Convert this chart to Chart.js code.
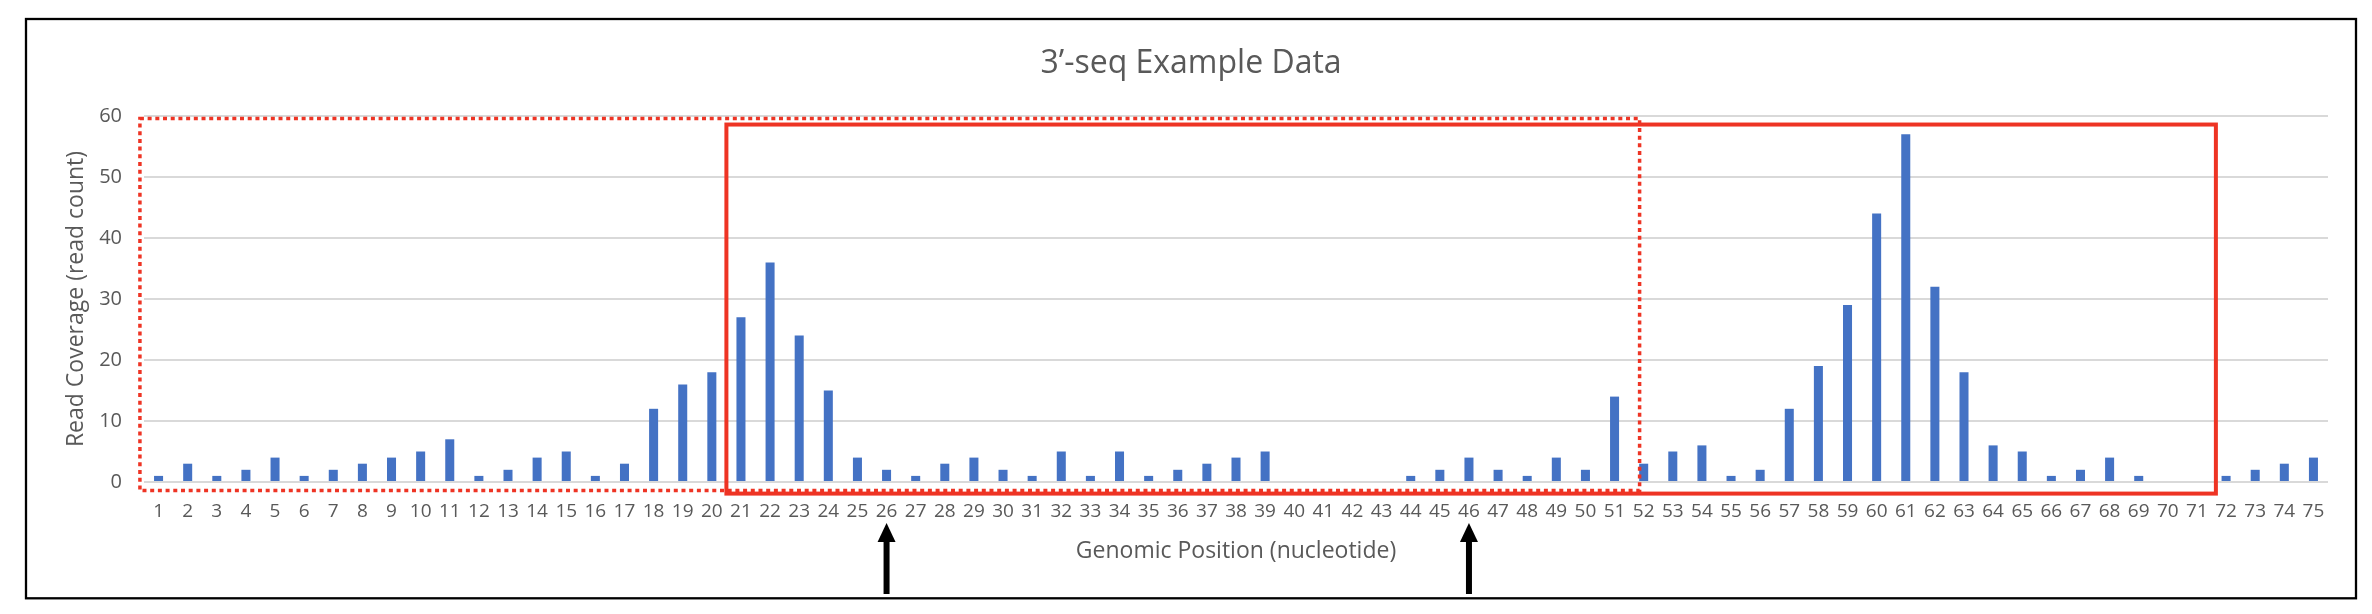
<!DOCTYPE html>
<html>
<head>
<meta charset="utf-8">
<title>3'-seq Example Data</title>
<script src="https://cdn.jsdelivr.net/npm/chart.js@4.4.0/dist/chart.umd.min.js"></script>
<style>
  html, body { margin: 0; padding: 0; background: #ffffff; }
  #wrap { width: 2372px; height: 614px; position: relative; }
</style>
</head>
<body>
<div id="wrap"><canvas id="seqChart" width="2372" height="614"></canvas></div>
<script>
/* =========================
   DATA
========================= */
const positions = [
  '1','2','3','4','5','6','7','8','9','10','11','12','13','14','15',
  '16','17','18','19','20','21','22','23','24','25','26','27','28','29','30',
  '31','32','33','34','35','36','37','38','39','40','41','42','43','44','45',
  '46','47','48','49','50','51','52','53','54','55','56','57','58','59','60',
  '61','62','63','64','65','66','67','68','69','70','71','72','73','74','75'
];
const readCounts = [
  1, 3, 1, 2, 4, 1, 2, 3, 4, 5, 7, 1, 2, 4, 5,
  1, 3, 12, 16, 18, 27, 36, 24, 15, 4, 2, 1, 3, 4, 2,
  1, 5, 1, 5, 1, 2, 3, 4, 5, 0, 0, 0, 0, 1, 2,
  4, 2, 1, 4, 2, 14, 3, 5, 6, 1, 2, 12, 19, 29, 44,
  57, 32, 18, 6, 5, 1, 2, 4, 1, 0, 0, 1, 2, 3, 4
];
const yTicks = [0, 10, 20, 30, 40, 50, 60];

// red boxes: nucleotide range (fractional) and read-count range
const dottedBox = { from: 0.36, to: 51.86, top: 59.6, bottom: -1.4 };
const solidBox = { from: 20.5, to: 71.65, top: 58.6, bottom: -1.9 };
// black arrows under these positions
const arrowAt = [26, 46];

const TITLE = '3\u2019-seq Example Data';
const X_TITLE = 'Genomic Position (nucleotide)';
const Y_TITLE = 'Read Coverage (read count)';

const FONT = '"Open Sans", "Noto Sans", sans-serif';
const TEXT_COLOR = '#595959';
const RED = '#EE3424';

/* =========================
   HELPERS
========================= */
// nucleotide position (1 based, may be fractional) -> pixel
function posToPx(xScale, pos) {
  const p0 = xScale.getPixelForValue(0);
  const p1 = xScale.getPixelForValue(1);
  return p0 + (pos - 1) * (p1 - p0);
}

function drawBox(ctx, chart, box, dashed) {
  const x = chart.scales.x, y = chart.scales.y;
  const l = posToPx(x, box.from), r = posToPx(x, box.to);
  const t = y.getPixelForValue(box.top), b = y.getPixelForValue(box.bottom);
  ctx.save();
  ctx.strokeStyle = RED;
  if (dashed) {
    ctx.lineWidth = 3.5;
    ctx.setLineDash([4, 3.7]);
  } else {
    ctx.lineWidth = 4;
  }
  ctx.strokeRect(l, t, r - l, b - t);
  ctx.restore();
}

function drawArrow(ctx, cx) {
  const tip = 523, headBase = 542, bottom = 594;
  ctx.save();
  ctx.fillStyle = '#000000';
  ctx.beginPath();
  ctx.moveTo(cx, tip);
  ctx.lineTo(cx + 9, headBase);
  ctx.lineTo(cx - 9, headBase);
  ctx.closePath();
  ctx.fill();
  ctx.fillRect(cx - 3, headBase - 1, 6, bottom - headBase + 1);
  ctx.restore();
}

/* =========================
   DECORATION PLUGIN
========================= */
const decorPlugin = {
  id: 'decor',
  afterDraw(chart) {
    const ctx = chart.ctx;

    // outer frame
    ctx.save();
    ctx.strokeStyle = '#000000';
    ctx.lineWidth = 2.3;
    ctx.strokeRect(26, 19, 2330, 579.3);
    ctx.restore();

    // titles
    ctx.save();
    ctx.fillStyle = TEXT_COLOR;
    ctx.textAlign = 'center';
    ctx.textBaseline = 'alphabetic';
    ctx.font = '32px ' + FONT;
    ctx.fillText(TITLE, 1191, 72.5);

    const area = chart.chartArea;
    ctx.font = '23px ' + FONT;
    ctx.fillText(X_TITLE, (area.left + area.right) / 2, 558);

    ctx.translate(83, (area.top + area.bottom) / 2);
    ctx.rotate(-Math.PI / 2);
    ctx.fillText(Y_TITLE, 0, 0);
    ctx.restore();

    // red boxes
    drawBox(ctx, chart, dottedBox, true);
    drawBox(ctx, chart, solidBox, false);

    // arrows
    arrowAt.forEach(p => drawArrow(ctx, posToPx(chart.scales.x, p)));
  }
};

/* =========================
   CHART
========================= */
const ctx = document.getElementById('seqChart').getContext('2d');
new Chart(ctx, {
  type: 'bar',
  data: {
    labels: positions,
    datasets: [{
      label: 'Read count',
      data: readCounts,
      backgroundColor: '#4472C4',
      borderWidth: 0,
      categoryPercentage: 1,
      barPercentage: 0.31
    }]
  },
  options: {
    responsive: false,
    animation: false,
    devicePixelRatio: 1,
    layout: { padding: { left: 0, right: 44, top: 116, bottom: 0 } },
    plugins: {
      legend: { display: false },
      tooltip: { enabled: false },
      title: { display: false }
    },
    scales: {
      x: {
        grid: { display: false, drawTicks: false },
        border: { display: false },
        ticks: {
          autoSkip: false,
          maxRotation: 0,
          minRotation: 0,
          padding: 18,
          color: TEXT_COLOR,
          font: { family: FONT, size: 19 }
        },
        afterFit: s => { s.height = 132; }
      },
      y: {
        min: 0,
        max: 60,
        afterBuildTicks: s => { s.ticks = yTicks.map(v => ({ value: v })); },
        grid: { color: '#D9D9D9', lineWidth: 2, drawTicks: false },
        border: { display: false },
        ticks: {
          padding: 22,
          color: TEXT_COLOR,
          font: { family: FONT, size: 20 }
        },
        afterFit: s => { s.width = 144; }
      }
    }
  },
  plugins: [decorPlugin]
});
</script>
</body>
</html>
